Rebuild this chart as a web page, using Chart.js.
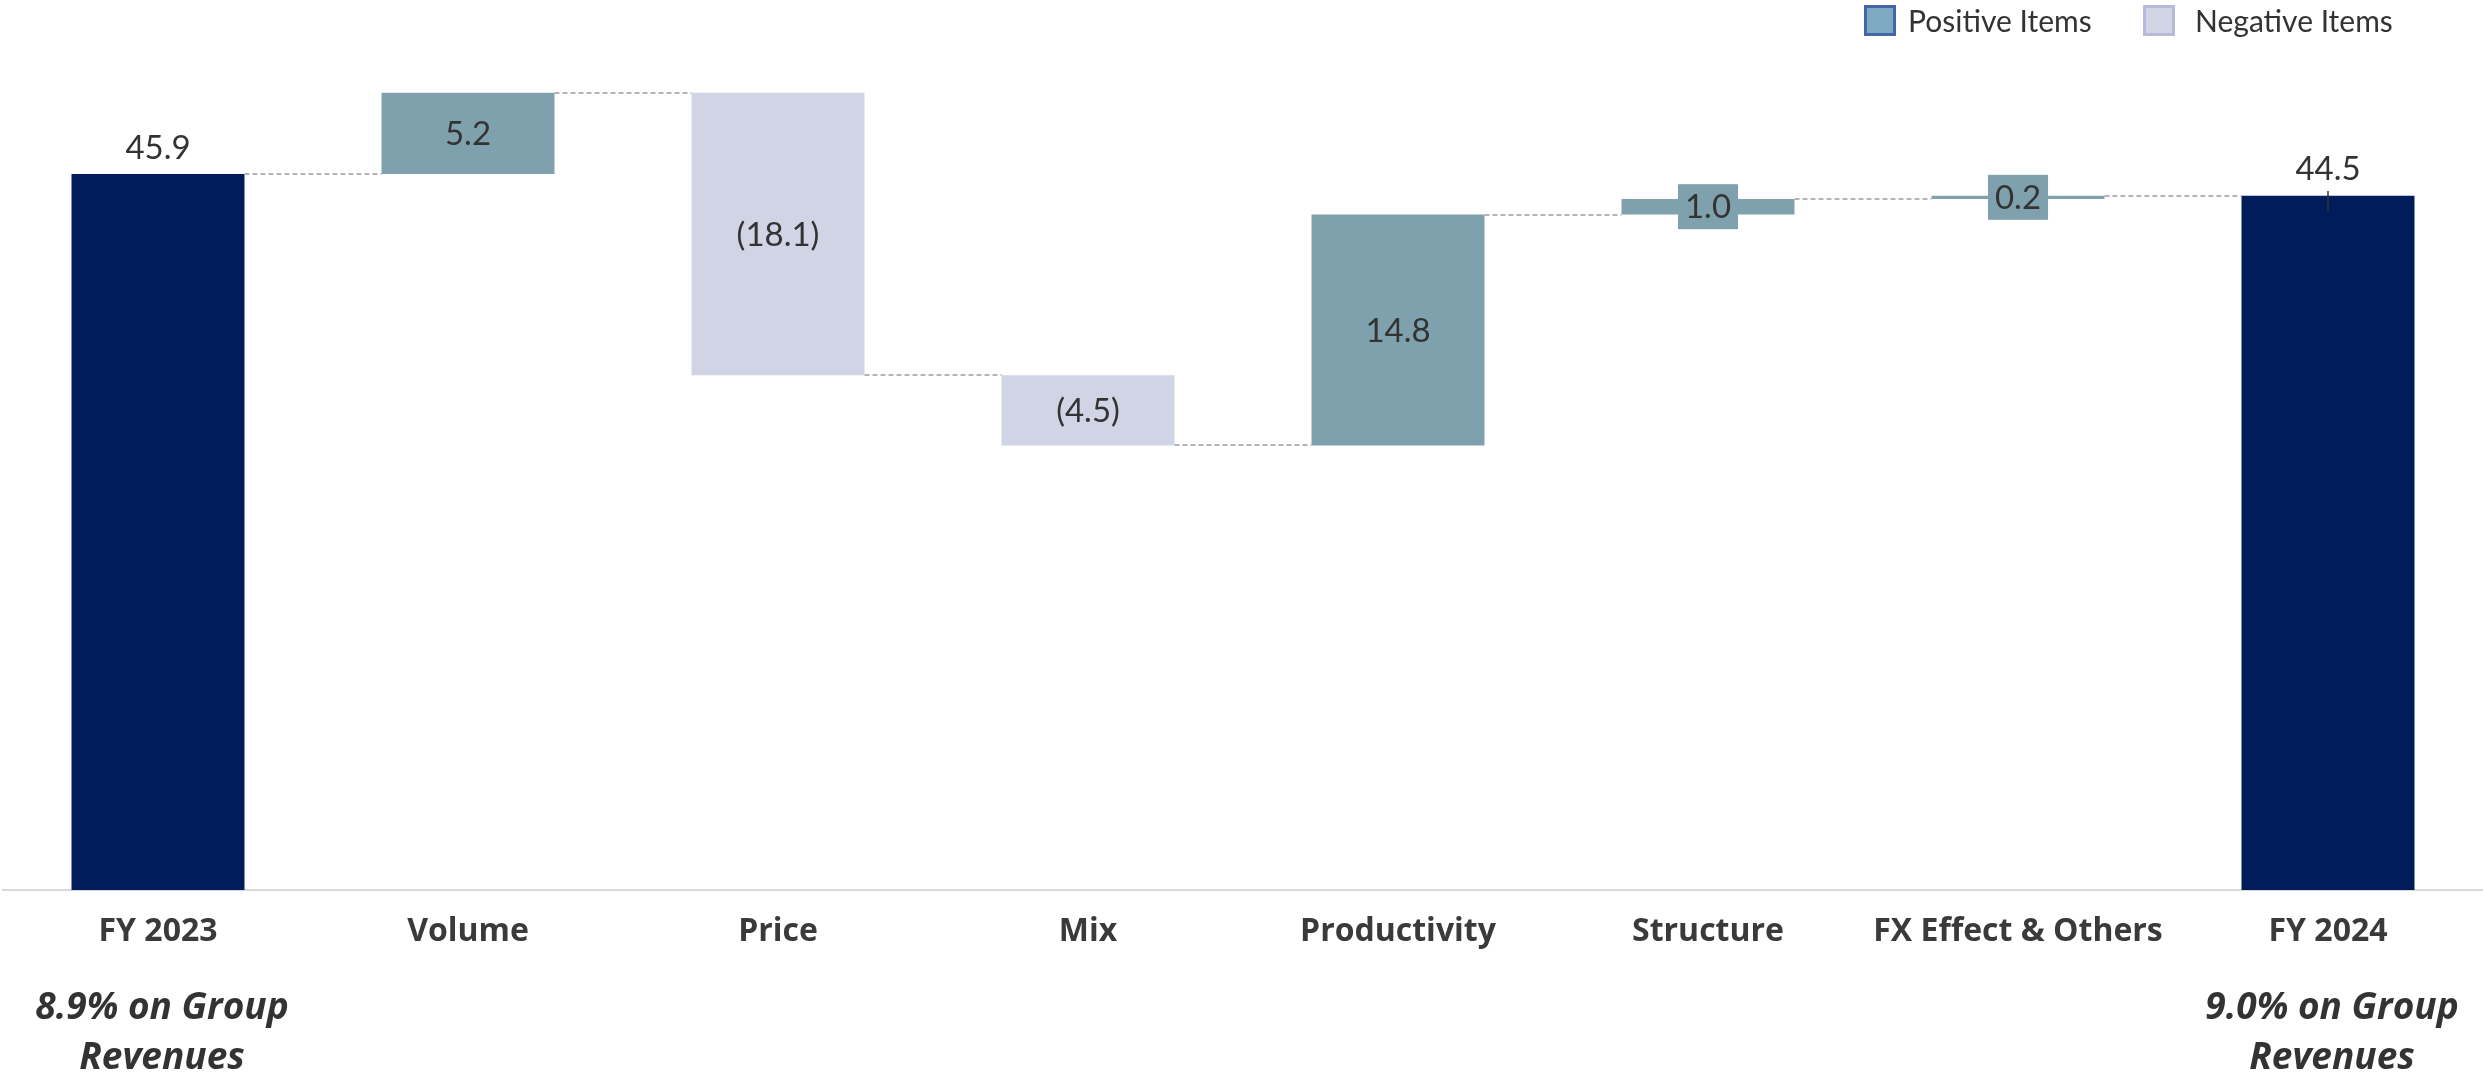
<!DOCTYPE html>
<html>
<head>
<meta charset="utf-8">
<script src="https://cdn.jsdelivr.net/npm/chart.js@4.4.1/dist/chart.umd.min.js"></script>
<style>
  html, body { margin: 0; padding: 0; background: #ffffff; }
  #wrap { position: relative; width: 2483px; height: 1081px; overflow: hidden; }
  #chart { position: absolute; left: 0; top: 0; }
  .lg-box { position: absolute; top: 5px; width: 32px; height: 31px; box-sizing: border-box; }
  .lg-text { position: absolute; top: 0px; font-family: Lato, "Open Sans", sans-serif; font-size: 30px; line-height: 40px; color: #333333; white-space: nowrap; }
</style>
</head>
<body>
<div id="wrap">
  <canvas id="chart" width="2483" height="1081"></canvas>
  <div class="lg-box" style="left:1864px; background:#7EAAC1; border:3px solid #4565A8;"></div>
  <div class="lg-text" style="left:1908px;">Positive Items</div>
  <div class="lg-box" style="left:2143px; background:#D1D5E6; border:3px solid #B5BBD9;"></div>
  <div class="lg-text" style="left:2195px;">Negative Items</div>
</div>
<script>
// ---- data ----
const categories = ['FY 2023', 'Volume', 'Price', 'Mix', 'Productivity', 'Structure', 'FX Effect & Others', 'FY 2024'];
const startTotal = 45.9;
const changes = [5.2, -18.1, -4.5, 14.8, 1.0, 0.2];
const endTotal = 44.5;
const notes = { 0: ['8.9% on Group', 'Revenues'], 7: ['9.0% on Group', 'Revenues'] };
const fy24ErrorBar = [44.8, 43.5];

// ---- colours ----
const totalColor = '#011C5A';
const posColor = '#7FA1AD';
const negColor = '#D0D4E5';

// ---- build floating ranges ----
const ranges = [];
const colors = [];
const kinds = [];
const levels = []; // running level after each bar
let run = startTotal;
ranges.push([0, startTotal]); colors.push(totalColor); kinds.push('total'); levels.push(run);
changes.forEach(c => {
  const s = run; run = +(run + c).toFixed(4);
  ranges.push([s, run]);
  colors.push(c >= 0 ? posColor : negColor);
  kinds.push(c >= 0 ? 'pos' : 'neg');
  levels.push(run);
});
ranges.push([0, endTotal]); colors.push(totalColor); kinds.push('total'); levels.push(endTotal);
const labelValues = [startTotal, ...changes, endTotal];

function fmt(v) {
  const a = Math.abs(v).toFixed(1);
  return v < 0 ? '(' + a + ')' : a;
}

const waterfallPlugin = {
  id: 'waterfallExtras',
  afterDatasetsDraw(chart) {
    const ctx = chart.ctx;
    const meta = chart.getDatasetMeta(0);
    const y = chart.scales.y;
    const x = chart.scales.x;
    // connectors
    ctx.save();
    ctx.strokeStyle = '#B4B4B4';
    ctx.lineWidth = 2;
    ctx.setLineDash([5, 3]);
    for (let i = 0; i < meta.data.length - 1; i++) {
      const a = meta.data[i], b = meta.data[i + 1];
      const py = Math.round(y.getPixelForValue(levels[i]));
      ctx.beginPath();
      ctx.moveTo(a.x + a.width / 2, py);
      ctx.lineTo(b.x - b.width / 2, py);
      ctx.stroke();
    }
    ctx.restore();

    // error whisker on last total
    ctx.save();
    ctx.strokeStyle = '#333333';
    ctx.lineWidth = 1.5;
    const last = meta.data[meta.data.length - 1];
    ctx.beginPath();
    ctx.moveTo(last.x, y.getPixelForValue(fy24ErrorBar[0]));
    ctx.lineTo(last.x, y.getPixelForValue(fy24ErrorBar[1]));
    ctx.stroke();
    ctx.restore();

    // value labels
    ctx.save();
    ctx.font = '33px Lato, "Open Sans", sans-serif';
    ctx.textAlign = 'center';
    ctx.textBaseline = 'middle';
    meta.data.forEach((el, i) => {
      const txt = fmt(labelValues[i]);
      if (kinds[i] === 'total') {
        const top = Math.min(el.y, el.base);
        ctx.fillStyle = '#333333';
        ctx.fillText(txt, el.x, top - 26);
      } else {
        const cy = (el.y + el.base) / 2;
        const w = ctx.measureText(txt).width + 14;
        const h = 45;
        ctx.fillStyle = colors[i];
        ctx.fillRect(el.x - w / 2, cy - h / 2, w, h);
        ctx.fillStyle = '#333333';
        ctx.fillText(txt, el.x, cy + 1);
      }
    });
    ctx.restore();

    // notes under the totals
    ctx.save();
    ctx.font = 'italic bold 37px "Open Sans", sans-serif';
    ctx.textAlign = 'center';
    ctx.textBaseline = 'middle';
    ctx.fillStyle = '#333333';
    const base = chart.chartArea.bottom;
    Object.keys(notes).forEach(k => {
      const px = x.getPixelForValue(+k) + 4;
      notes[k].forEach((line, j) => {
        ctx.fillText(line, px, base + 118 + j * 50);
      });
    });
    ctx.restore();
  }
};

new Chart(document.getElementById('chart'), {
  type: 'bar',
  data: {
    labels: categories,
    datasets: [{
      data: ranges,
      backgroundColor: colors,
      borderWidth: 0,
      categoryPercentage: 1.0,
      barPercentage: 0.558
    }]
  },
  options: {
    responsive: false,
    animation: false,
    devicePixelRatio: 1,
    layout: { padding: { left: 3, right: 0, top: 0, bottom: 0 } },
    plugins: { legend: { display: false }, tooltip: { enabled: false } },
    scales: {
      x: {
        grid: { display: false, drawTicks: false },
        border: { display: true, color: '#D9D9D9', width: 2 },
        ticks: {
          font: { family: '"Open Sans", sans-serif', weight: 'bold', size: 32 },
          color: '#3A3A3A',
          padding: 23,
          maxRotation: 0,
          autoSkip: false
        },
        afterFit(scale) { scale.height = 191; }
      },
      y: { display: false, min: 0, max: 57.05 }
    }
  },
  plugins: [waterfallPlugin]
});
</script>
</body>
</html>
